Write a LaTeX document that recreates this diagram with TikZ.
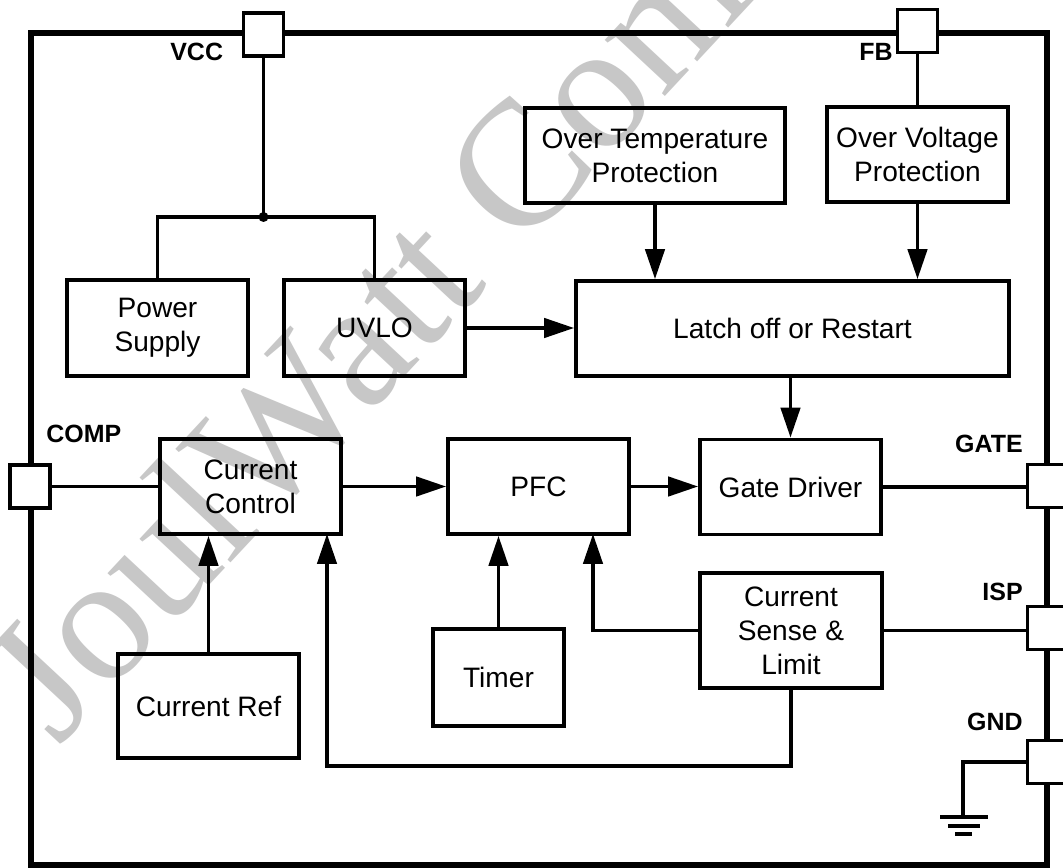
\documentclass[tikz,border=0pt]{standalone}
\usepackage{fontspec}
\setmainfont{Liberation Sans}
\newfontfamily\wmfont{Liberation Serif}
\usetikzlibrary{arrows.meta,calc}
\begin{document}
\begin{tikzpicture}[x=0.02cm,y=-0.02cm,
  blk/.style={draw, line width=2.2pt, align=center, font=\fontsize{16}{19.3}\selectfont, inner sep=0pt},
  sz/.style 2 args={minimum width=#1*0.02cm, minimum height=#2*0.02cm},
  pin/.style={draw, fill=white, line width=2.0pt, minimum width=0.8cm, minimum height=0.86cm, inner sep=0pt},
  plabel/.style={font=\bfseries\fontsize{14.2}{16}\selectfont, inner sep=0pt},
  wire/.style={line width=1.9pt},
  arr/.style={wire, -{Triangle[length=17pt,width=11pt]}},
  border/.style={line width=3.0pt, line join=miter},
  gndline/.style={line width=2.0pt},
  watermark/.style={text=black!22, font=\wmfont\fontsize{102}{102}\selectfont, inner sep=0pt}
]
\clip (0,0) rectangle (1063,868);
\fill[white] (0,0) rectangle (1063,868);

% watermark
\node[watermark, rotate=47, anchor=base west] (wm) at (58,748) {JoulWatt Confidential};

% outer border
\draw[border] (31,33) rectangle (1047,865);

% pins
\node[pin] (vcc) at (263.5,34.5) {};
\node[pin] (fb) at (917.5,31) {};
\node[pin] (comp) at (30,486.5) {};
\node[pin] (gate) at (1047.5,486) {};
\node[pin] (isp) at (1047.5,628) {};
\node[pin] (gnd) at (1047.5,762) {};

% pin labels
\node[plabel, anchor=west] (lvcc) at (170,52) {VCC};
\node[plabel, anchor=east] (lfb) at (893,52) {FB};
\node[plabel, anchor=west] (lcomp) at (46,434) {COMP};
\node[plabel, anchor=east] (lgate) at (1023,444) {GATE};
\node[plabel, anchor=east] (lisp) at (1023,592) {ISP};
\node[plabel, anchor=east] (lgnd) at (1023,722) {GND};

% blocks
\node[blk, sz={260}{95}] (otp) at (655,155.5) {Over Temperature\\Protection};
\node[blk, sz={181}{95}] (ovp) at (917.5,154.5) {Over Voltage\\Protection};
\node[blk, sz={433}{95}] (latch) at (792.5,328.5) {Latch off or Restart};
\node[blk, sz={181}{96}] (ps) at (157.5,328) {Power\\Supply};
\node[blk, sz={181}{96}] (uvlo) at (374.5,328) {UVLO};
\node[blk, sz={181}{95}] (cc) at (250.5,486.5) {Current\\Control};
\node[blk, sz={181}{95}] (pfc) at (538.5,486.5) {PFC};
\node[blk, sz={181}{95}] (gd) at (790.5,487) {Gate Driver};
\node[blk, sz={182}{115}] (cs) at (791,630.5) {Current\\Sense \&\\Limit};
\node[blk, sz={131}{97}] (timer) at (498.5,677.5) {Timer};
\node[blk, sz={181}{104}] (cref) at (208.5,706) {Current Ref};

% helper coordinates
\coordinate (j) at (263.5,217);
\coordinate (pfcin2) at (593,534);
\coordinate (ccin2) at (327,534);
\coordinate (bot) at (0,766);
\coordinate (gtop) at (963,817);

% VCC distribution
\draw[wire] (vcc.south) -- (j);
\draw[wire] (ps.north) |- (j) -| (uvlo.north);
\fill (j) circle (0.1cm);

% FB
\draw[wire] (fb.south) -- (ovp.north);

% protection arrows
\draw[arr] (otp.south) -- (otp.south |- latch.north);
\draw[arr] (ovp.south) -- (ovp.south |- latch.north);
\draw[arr] (uvlo.east) -- (uvlo.east -| latch.west);
\draw[arr] (gd.north |- latch.south) -- (gd.north);

% main chain
\draw[wire] (comp.east) -- (cc.west);
\draw[arr] (cc.east) -- (pfc.west);
\draw[arr] (pfc.east) -- (pfc.east -| gd.west);
\draw[wire] (gd.east) -- (gd.east -| gate.west);

% lower feeds
\draw[arr] (cref.north) -- (cref.north |- cc.south);
\draw[arr] (timer.north) -- (timer.north |- pfc.south);
\draw[arr] (cs.west) -| (pfcin2);
\draw[wire] (cs.east) -- (cs.east -| isp.west);
\draw[arr] (cs.south) |- (ccin2 |- bot) -- (ccin2);

% ground
\draw[wire] (gnd.west) -| (gtop);
\draw[gndline] (940,817) -- (988,817);
\draw[gndline] (948,826) -- (980,826);
\draw[gndline] (955,834) -- (972,834);
\end{tikzpicture}
\end{document}
